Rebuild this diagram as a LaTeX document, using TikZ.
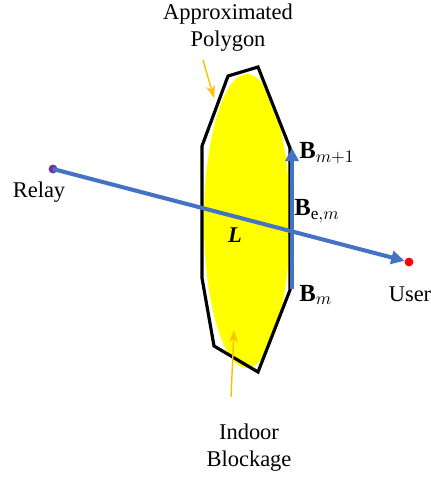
\documentclass[tikz,border=0pt]{standalone}
\usepackage{amsmath,amssymb}
\usepackage{fontspec}
\setmainfont{Liberation Serif}
\usepackage{tikz}
\usetikzlibrary{arrows.meta,positioning}
\definecolor{lblue}{RGB}{68,114,196}
\definecolor{lorange}{RGB}{255,192,0}
\definecolor{lyellow}{RGB}{255,255,0}
\definecolor{lpurple}{RGB}{112,48,160}
\tikzset{
  txt/.style   ={align=center, inner sep=0pt, font=\fontsize{12.8}{15.3}\selectfont},
  sym/.style   ={inner sep=0pt, font=\fontsize{14}{16}\selectfont, anchor=west},
  ar/.style    ={-{Triangle[length=7.5pt,width=7.5pt]}, draw=lblue, line width=2.3pt},
  arg/.style   ={-{Stealth[length=2.5mm,width=1.8mm]}, draw=lorange, line width=0.8pt},
  poly/.style  ={draw=black, line width=1.8pt, line join=miter},
  dot/.style   ={circle, inner sep=0pt, minimum size=5pt}
}
\begin{document}
\begin{tikzpicture}[x=0.02cm, y=-0.02cm]
\useasboundingbox (0,0) rectangle (431,480);
% blockage and its polygon
\fill[lyellow] (247,221) ellipse [x radius=43, y radius=147];
\draw[poly] (228,76) -- (258,67) -- (290,148) -- (290,290) -- (258,372)
  -- (214,346) -- (202,278) -- (202,146) -- cycle;
% edge vector
\coordinate (bm) at (292,289);
\coordinate (bmp) at (292,148);
\draw[ar] (bm) -- (bmp);
% end points
\node[dot, fill=lpurple] (relay) at (53,169) {};
\node[dot, fill=red] (user) at (409,262) {};
\draw[ar] (relay.center) -- (user);
% labels
\node[txt] (rlbl) at (39,192) {Relay};
\node[txt] (ulbl) at (410,294) {User};
\node[sym] (bmp lbl) at (299,153) {$\mathbf{B}_{m+1}$};
\node[sym] (be lbl) at (294,211) {$\mathbf{B}_{\mathrm{e},m}$};
\node[sym] (bm lbl) at (299,295) {$\mathbf{B}_{m}$};
\node[txt] (llbl) at (235,235) {\textbf{\textit{L}}};
\node[txt] (poly lbl) at (228,28) {Approximated\\Polygon};
\node[txt] (blk lbl) at (249,448) {Indoor\\Blockage};
\coordinate (pa) at (203,60);
\coordinate (pb) at (214,98);
\coordinate (ba) at (231,397);
\coordinate (bb) at (234,330);
\draw[arg] (pa) -- (pb);
\draw[arg] (ba) -- (bb);
\end{tikzpicture}
\end{document}
